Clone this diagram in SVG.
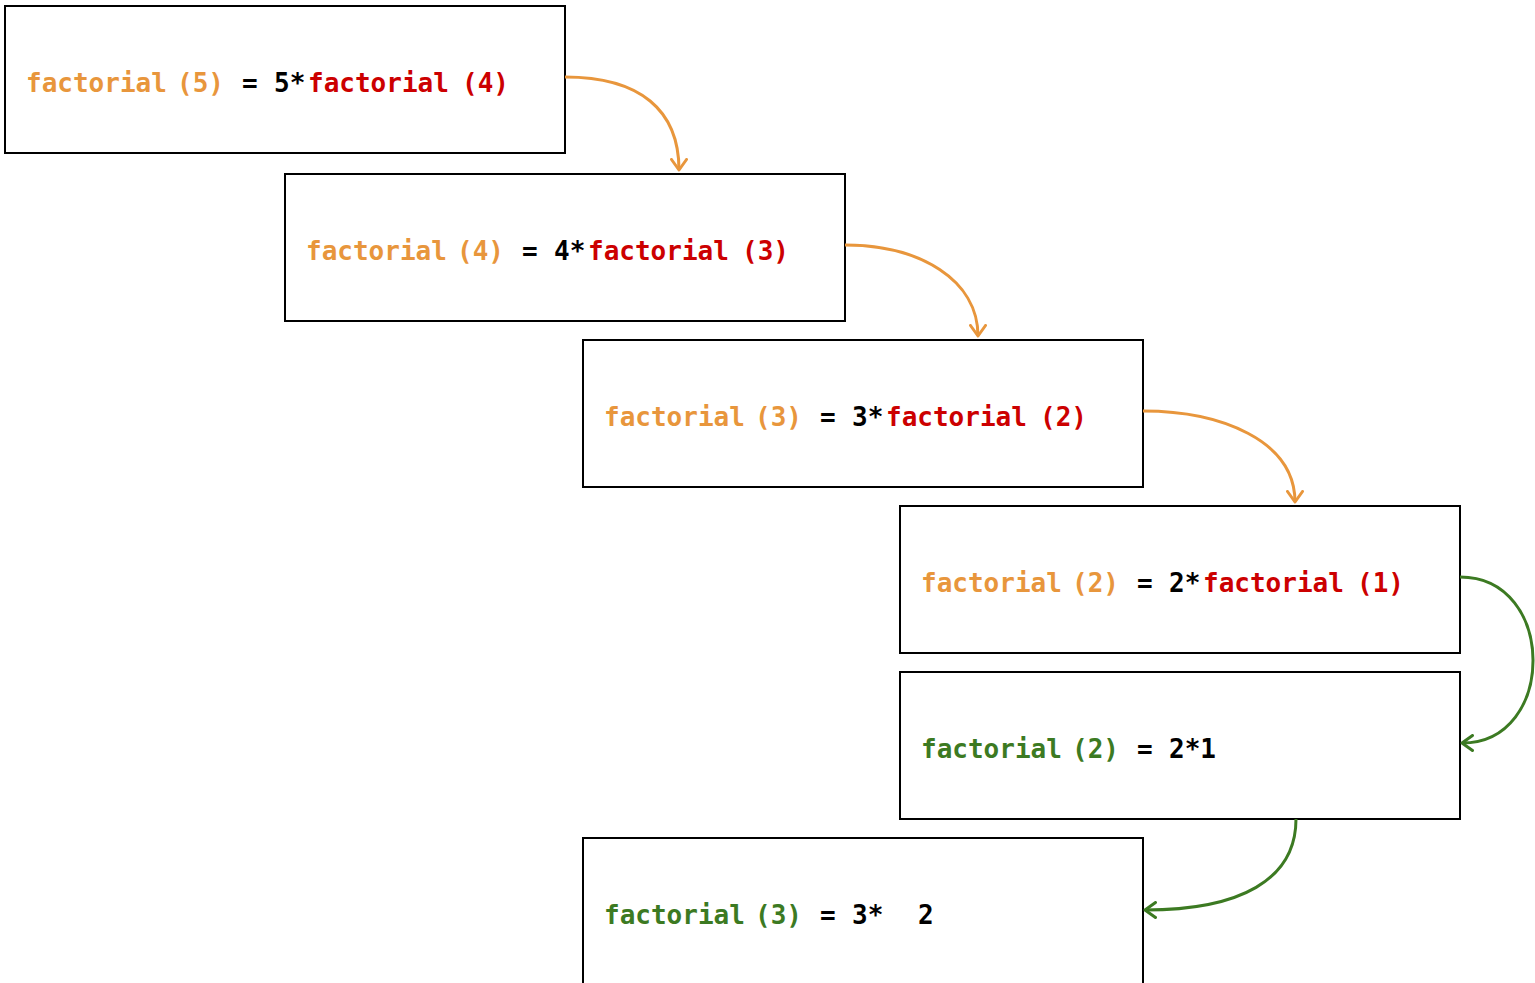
<svg xmlns="http://www.w3.org/2000/svg" width="1535" height="983" viewBox="0 0 1535 983">
  <style>
    .box { fill: #ffffff; stroke: #000000; stroke-width: 2; }
    .code { font-family: "DejaVu Sans Mono", monospace; font-weight: bold; font-size: 26px; }
    .call { fill: #E8963C; }
    .rec { fill: #CC0000; }
    .done { fill: #3C7A22; }
    .op { fill: #000000; }
    .down { fill: none; stroke: #E8963C; stroke-width: 3; }
    .up { fill: none; stroke: #3C7A22; stroke-width: 3; }
  </style>
  <defs>
    <marker id="arrowOrange" viewBox="0 0 14 18" refX="12" refY="9" markerWidth="14" markerHeight="18" markerUnits="userSpaceOnUse" orient="auto">
      <path d="M1.5,1.5 L12,9 L1.5,16.5" fill="none" stroke="#E8963C" stroke-width="3" stroke-linecap="round" stroke-linejoin="round"/>
    </marker>
    <marker id="arrowGreen" viewBox="0 0 14 18" refX="12" refY="9" markerWidth="14" markerHeight="18" markerUnits="userSpaceOnUse" orient="auto">
      <path d="M1.5,1.5 L12,9 L1.5,16.5" fill="none" stroke="#3C7A22" stroke-width="3" stroke-linecap="round" stroke-linejoin="round"/>
    </marker>
  </defs>
  <rect width="1535" height="983" fill="#ffffff"/>

  <g id="f5">
    <rect class="box" x="5" y="6" width="560" height="147"/>
    <text class="code" y="92"><tspan class="call" x="26">factorial</tspan><tspan class="call" x="177">(5)</tspan><tspan class="op" x="242">=</tspan><tspan class="op" x="274">5*</tspan><tspan class="rec" x="308">factorial</tspan><tspan class="rec" x="462">(4)</tspan></text>
  </g>

  <g id="f4">
    <rect class="box" x="285" y="174" width="560" height="147"/>
    <text class="code" y="260"><tspan class="call" x="306">factorial</tspan><tspan class="call" x="457">(4)</tspan><tspan class="op" x="522">=</tspan><tspan class="op" x="554">4*</tspan><tspan class="rec" x="588">factorial</tspan><tspan class="rec" x="742">(3)</tspan></text>
  </g>

  <g id="f3">
    <rect class="box" x="583" y="340" width="560" height="147"/>
    <text class="code" y="426"><tspan class="call" x="604">factorial</tspan><tspan class="call" x="755">(3)</tspan><tspan class="op" x="820">=</tspan><tspan class="op" x="852">3*</tspan><tspan class="rec" x="886">factorial</tspan><tspan class="rec" x="1040">(2)</tspan></text>
  </g>

  <g id="f2">
    <rect class="box" x="900" y="506" width="560" height="147"/>
    <text class="code" y="592"><tspan class="call" x="921">factorial</tspan><tspan class="call" x="1072">(2)</tspan><tspan class="op" x="1137">=</tspan><tspan class="op" x="1169">2*</tspan><tspan class="rec" x="1203">factorial</tspan><tspan class="rec" x="1357">(1)</tspan></text>
  </g>

  <g id="f2-result">
    <rect class="box" x="900" y="672" width="560" height="147"/>
    <text class="code" y="758"><tspan class="done" x="921">factorial</tspan><tspan class="done" x="1072">(2)</tspan><tspan class="op" x="1137">=</tspan><tspan class="op" x="1169">2*1</tspan></text>
  </g>

  <g id="f3-result">
    <rect class="box" x="583" y="838" width="560" height="160"/>
    <text class="code" y="924"><tspan class="done" x="604">factorial</tspan><tspan class="done" x="755">(3)</tspan><tspan class="op" x="820">=</tspan><tspan class="op" x="852">3*</tspan><tspan class="op" x="918">2</tspan></text>
  </g>

  <g id="connectors">
    <path class="down" d="M565,77 C640,77 679,110 679,170" marker-end="url(#arrowOrange)"/>
    <path class="down" d="M845,245 C920,245 978,280 978,336" marker-end="url(#arrowOrange)"/>
    <path class="down" d="M1143,411 C1220,411 1295,440 1295,502" marker-end="url(#arrowOrange)"/>
    <path class="up" d="M1460,577 C1557,577 1557,743 1462,743" marker-end="url(#arrowGreen)"/>
    <path class="up" d="M1296,819 C1296,880 1240,910 1145,910" marker-end="url(#arrowGreen)"/>
  </g>
</svg>
